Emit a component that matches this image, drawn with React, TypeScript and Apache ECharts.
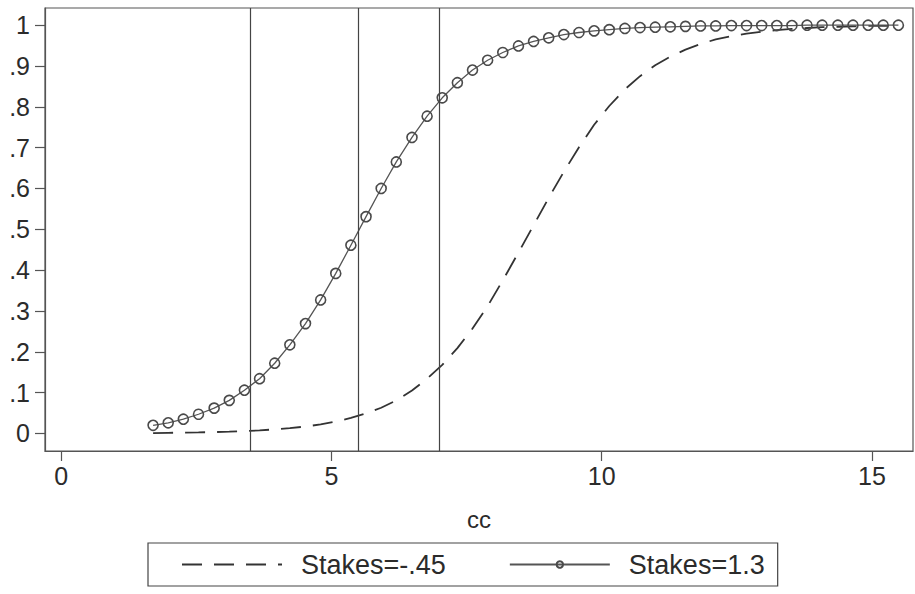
import React, { useEffect, useRef } from "react";
import * as echarts from "echarts";

const cc = [
  1.7, 1.98, 2.26, 2.54, 2.83, 3.11, 3.39, 3.67, 3.95, 4.23,
  4.52, 4.8, 5.08, 5.36, 5.64, 5.92, 6.2, 6.49, 6.77, 7.05,
  7.33, 7.61, 7.89, 8.17, 8.46, 8.74, 9.02, 9.3, 9.58, 9.86,
  10.14, 10.43, 10.71, 10.99, 11.27, 11.55, 11.83, 12.11, 12.4, 12.68,
  12.96, 13.24, 13.52, 13.8, 14.08, 14.37, 14.65, 14.93, 15.21, 15.49,
];

const stakesLow = [
  0.001, 0.0015, 0.002, 0.0026, 0.0034, 0.0044, 0.0058, 0.0075, 0.0099, 0.013,
  0.017, 0.022, 0.029, 0.038, 0.049, 0.063, 0.081, 0.105, 0.134, 0.168,
  0.209, 0.257, 0.312, 0.375, 0.443, 0.51, 0.577, 0.641, 0.701, 0.756,
  0.802, 0.843, 0.875, 0.902, 0.923, 0.94, 0.954, 0.965, 0.973, 0.979,
  0.984, 0.988, 0.991, 0.993, 0.995, 0.996, 0.997, 0.998, 0.998, 0.999,
];

const stakesHigh = [
  0.02, 0.026, 0.035, 0.047, 0.062, 0.081, 0.106, 0.134, 0.172, 0.217,
  0.269, 0.327, 0.392, 0.461, 0.531, 0.6, 0.665, 0.725, 0.777, 0.822,
  0.859, 0.89, 0.914, 0.933, 0.949, 0.96, 0.969, 0.977, 0.982, 0.986,
  0.989, 0.992, 0.994, 0.995, 0.996, 0.997, 0.998, 0.998, 0.999, 0.999,
  0.999, 0.999, 0.999, 1, 1, 1, 1, 1, 1, 1,
];

const seriesNames = ["Stakes=-.45", "Stakes=1.3"];
const refLines = [3.5, 5.5, 7];
const xTicks = [0, 5, 10, 15];
const yTicks = [0, 0.1, 0.2, 0.3, 0.4, 0.5, 0.6, 0.7, 0.8, 0.9, 1];
const yTickLabels = ["0", ".1", ".2", ".3", ".4", ".5", ".6", ".7", ".8", ".9", "1"];

const FONT = "Liberation Sans, Arial, sans-serif";
const INK = "#2b2b2b";

export default function App() {
  const ref = useRef<HTMLDivElement>(null);
  useEffect(() => {
    if (!ref.current) return;
    const chart = echarts.init(ref.current, undefined, { renderer: "svg" });
    chart.setOption({
      animation: false,
      backgroundColor: "#fff",
      textStyle: { fontFamily: FONT },
      grid: {
        left: 45,
        right: 2,
        top: 8,
        bottom: 143,
        show: true,
        borderColor: "#555",
        borderWidth: 1.2,
        backgroundColor: "#fff",
      },
      xAxis: {
        type: "value",
        min: -0.3,
        max: 15.76,
        name: "cc",
        nameLocation: "middle",
        nameGap: 56,
        nameTextStyle: { fontSize: 24, color: INK, fontFamily: FONT },
        axisLine: { show: true, onZero: false, lineStyle: { color: "#555", width: 1.2 } },
        axisTick: { show: true, length: 10, customValues: xTicks, lineStyle: { color: "#555", width: 1.2 } },
        axisLabel: { customValues: xTicks, fontSize: 25, color: INK, margin: 12, fontFamily: FONT },
        splitLine: { show: false },
      },
      yAxis: {
        type: "value",
        min: -0.043,
        max: 1.042,
        axisLine: { show: true, onZero: false, lineStyle: { color: "#555", width: 1.2 } },
        axisTick: { show: true, length: 10, customValues: yTicks, lineStyle: { color: "#555", width: 1.2 } },
        axisLabel: {
          customValues: yTicks,
          fontSize: 25,
          color: INK,
          margin: 15,
          fontFamily: FONT,
          formatter: (v: number) => {
            const i = yTicks.findIndex((t) => Math.abs(t - v) < 1e-9);
            return i >= 0 ? yTickLabels[i] : "";
          },
        },
        splitLine: { show: false },
      },
      legend: {
        data: seriesNames,
        bottom: 8,
        left: 148,
        orient: "horizontal",
        itemWidth: 100,
        itemHeight: 8,
        itemGap: 63,
        padding: [8, 13, 8, 33],
        borderColor: "#444",
        borderWidth: 1.2,
        textStyle: { fontSize: 27, color: INK, fontFamily: FONT, padding: [0, 0, 0, 14] },
      },
      series: [
        {
          name: seriesNames[0],
          type: "line",
          data: cc.map((x, i) => [x, stakesLow[i]]),
          showSymbol: false,
          symbol: "none",
          lineStyle: { color: "#333", width: 1.8, type: [20, 12] },
          itemStyle: { color: "transparent", borderColor: "transparent" },
          z: 3,
          markLine: {
            silent: true,
            symbol: "none",
            label: { show: false },
            lineStyle: { color: "#444", width: 1.2, type: "solid" },
            data: refLines.map((v) => ({ xAxis: v })),
          },
        },
        {
          name: seriesNames[1],
          type: "line",
          data: cc.map((x, i) => [x, stakesHigh[i]]),
          symbol: "circle",
          symbolSize: 10,
          showSymbol: true,
          lineStyle: { color: "#555", width: 1.3 },
          itemStyle: { color: "transparent", borderColor: "#4a4a4a", borderWidth: 1.6 },
          z: 4,
        },
      ],
    });
    return () => chart.dispose();
  }, []);
  return (
    <div
      ref={ref}
      style={{ position: "fixed", left: 0, top: 0, width: 915, height: 594, background: "#fff" }}
    />
  );
}
